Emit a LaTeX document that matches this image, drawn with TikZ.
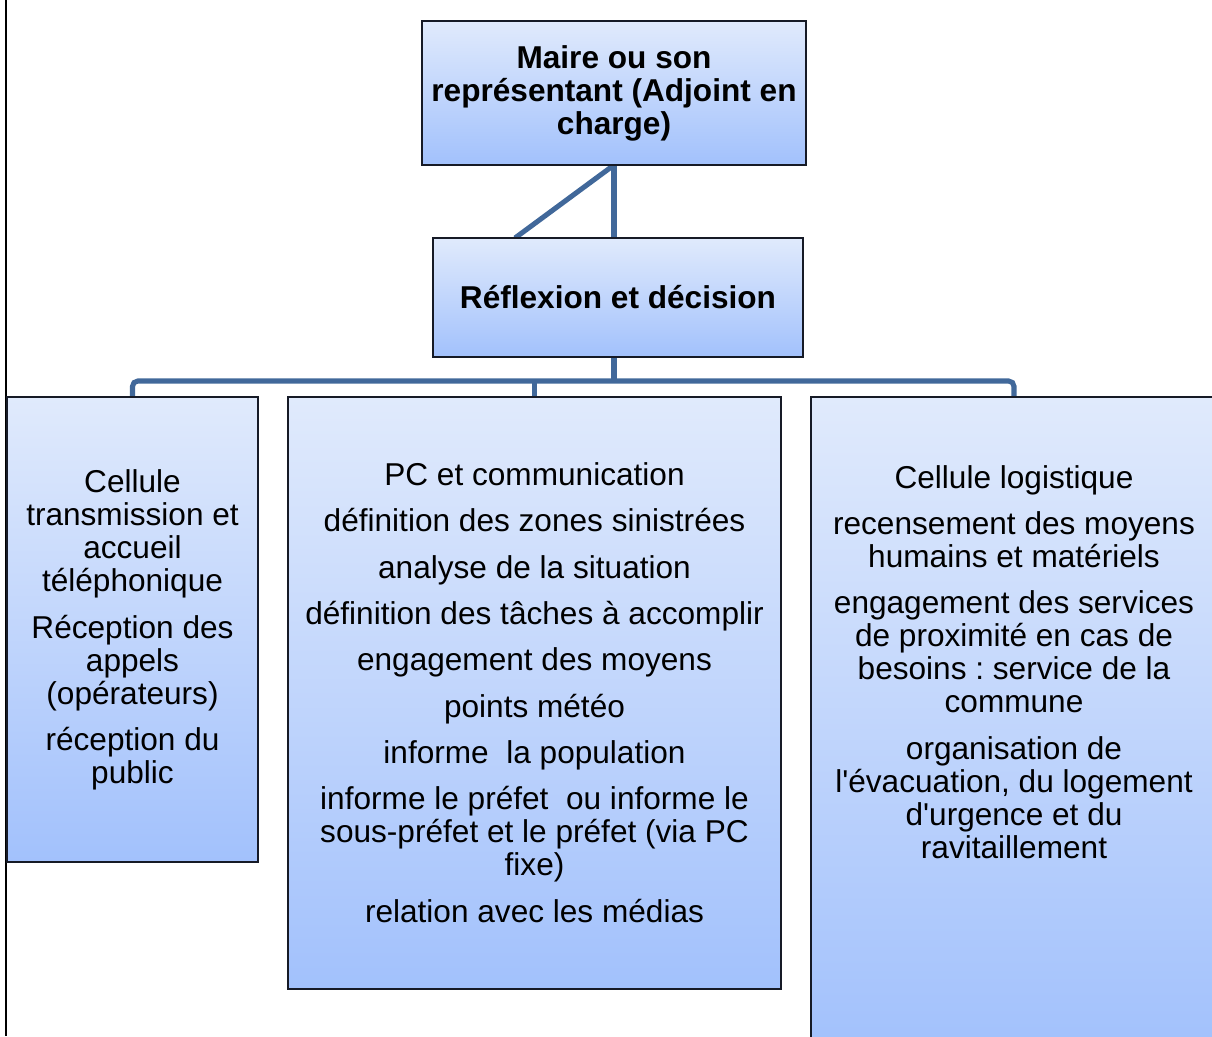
\documentclass[tikz,border=0pt]{standalone}
\usepackage{fontspec}
\setmainfont{Liberation Sans}
\usetikzlibrary{shadows}

\definecolor{boxtop}{RGB}{224,234,252}
\definecolor{boxbottom}{RGB}{162,193,252}
\definecolor{linkblue}{RGB}{65,104,154}
\definecolor{boxline}{RGB}{22,26,38}

\pgfdeclarelayer{background}
\pgfsetlayers{background,main}

\tikzset{every picture/.style={line width=0.75pt}}
\tikzset{
  cellbox/.style={draw=boxline, line width=1.1pt, top color=boxtop, bottom color=boxbottom,
    inner sep=0pt, outer sep=0pt,
    drop shadow={shadow xshift=0.9pt, shadow yshift=-0.9pt, opacity=0.45}},
  link/.style={draw=linkblue, line width=3.8pt},
  celltext/.style={align=center, font=\frenchspacing\fontsize{23.7}{24.75}\selectfont},
  headtext/.style={align=center, font=\bfseries\fontsize{23.7}{24.75}\selectfont}
}

\begin{document}
\begin{tikzpicture}[x=0.75pt,y=0.75pt,yscale=-1,xscale=1]
\useasboundingbox (0,0) rectangle (1212,1036);
\clip (0,0) rectangle (1212,1036);

%Straight Lines: page rule
\draw [line width=1.1pt] (6,0) -- (6,1036) ;

%Shape: Rectangle [maire]
\node [cellbox, headtext, minimum width=288pt, minimum height=108pt] (maire) at (614,93) {Maire ou son\\représentant (Adjoint en\\charge)};
%Shape: Rectangle [reflexion]
\node [cellbox, headtext, minimum width=277.5pt, minimum height=89.25pt] (reflexion) at (618,297.5) {Réflexion et décision};

%Shape: Rectangle [transmission]
\node [cellbox, minimum width=188.25pt, minimum height=348.75pt] (transmission) at (132.5,629.5) {};
%Shape: Rectangle [pc]
\node [cellbox, minimum width=369.75pt, minimum height=444pt] (pc) at (534.5,693) {};
%Shape: Rectangle [logistique]
\node [cellbox, minimum width=304.5pt, minimum height=489.75pt] (logistique) at (1014,723.5) {};

\coordinate (bus) at (614,381);
\coordinate (diag) at (515,238);

%Straight Lines
\begin{pgfonlayer}{background}
\draw [link] (maire.south) -- (maire.south |- reflexion.north) ;
\draw [link] (maire.south) -- (diag) ;
\draw [link] (maire.south |- reflexion.south) -- (bus) ;
\draw [link, rounded corners=4pt] (transmission.north) |- (bus) -| (logistique.north) ;
\draw [link] (pc.north) -- (pc.north |- bus) ;
\end{pgfonlayer}

% Text Node
\node [celltext] (transmissionText) at (132.5,630) {Cellule\\transmission et\\accueil\\téléphonique\\[10pt]Réception des\\appels\\(opérateurs)\\[10pt]réception du\\public};
% Text Node
\node [celltext] (pcText) at (534.5,692.5) {PC et communication\\[10pt]définition des zones sinistrées\\[10pt]analyse de la situation\\[10pt]définition des tâches à accomplir\\[10pt]engagement des moyens\\[10pt]points météo\\[10pt]informe~~la population\\[10pt]informe le préfet~~ou informe le\\sous-préfet et le préfet (via PC\\fixe)\\[10pt]relation avec les médias};
% Text Node
\node [celltext] (logistiqueText) at (1014,662) {Cellule logistique\\[10pt]recensement des moyens\\humains et matériels\\[10pt]engagement des services\\de proximité en cas de\\besoins : service de la\\commune\\[10pt]organisation de\\l\textquotesingle évacuation, du logement\\d\textquotesingle urgence et du\\ravitaillement};

\end{tikzpicture}
\end{document}
